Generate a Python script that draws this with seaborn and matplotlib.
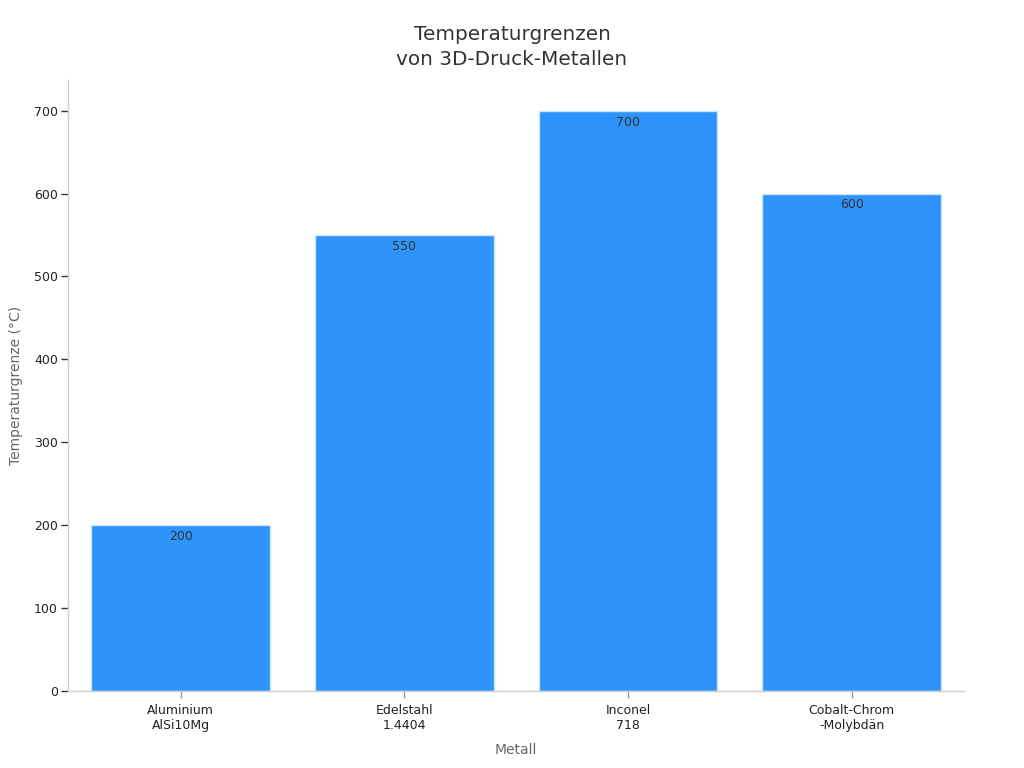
import numpy as np
import pandas as pd
import matplotlib
matplotlib.use("Agg")
import matplotlib.pyplot as plt
import seaborn as sns

metals = ["Aluminium\nAlSi10Mg", "Edelstahl\n1.4404", "Inconel\n718", "Cobalt-Chrom\n-Molybdän"]
temps = [200, 550, 700, 600]

df = pd.DataFrame({"Metall": metals, "Temp": temps})

sns.set_theme(style="white")
plt.rcParams["font.family"] = ["DejaVu Sans"]

fig, ax = plt.subplots(figsize=(10.24, 7.68), dpi=100)
fig.subplots_adjust(left=0.066, right=0.941, top=0.896, bottom=0.1)

sns.barplot(data=df, x="Metall", y="Temp", color="#2E93FA", saturation=1,
            width=0.8, edgecolor="#cfe3fb", linewidth=1, ax=ax)

for i, v in enumerate(temps):
    ax.text(i, v - 6, str(v), ha="center", va="top", fontsize=9, color="#333333")

ax.set_xlim(-0.505, 3.5)
ax.set_ylim(0, 737)
ax.set_yticks(range(0, 701, 100))

fig.suptitle("Temperaturgrenzen\nvon 3D-Druck-Metallen", x=0.5, y=0.968, fontsize=14.4,
             color="#333333", va="top", linespacing=1.45)
ax.set_xlabel("Metall", fontsize=10, color="#666666", labelpad=8)
ax.set_ylabel("Temperaturgrenze (°C)", fontsize=10, color="#666666", labelpad=8)

for s in ["top", "right"]:
    ax.spines[s].set_visible(False)
for s in ["left", "bottom"]:
    ax.spines[s].set_color("#d0d0d0")
    ax.spines[s].set_linewidth(1)

ax.tick_params(axis="y", left=True, length=5, width=1, color="#333333", labelsize=9, labelcolor="#222222", pad=2)
ax.tick_params(axis="x", bottom=True, length=5, width=1, color="#999999", labelsize=9, labelcolor="#222222", pad=4)

fig.savefig("out.png", dpi=100)
